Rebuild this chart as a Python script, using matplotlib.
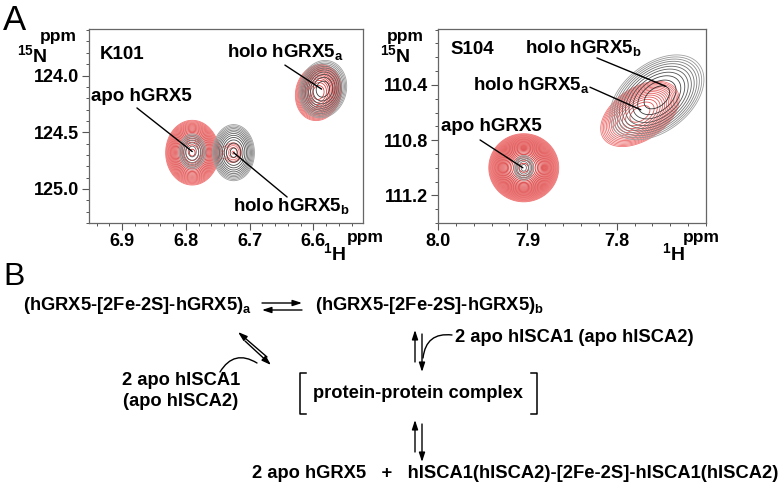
import numpy as np
import matplotlib
matplotlib.use("Agg")
import matplotlib.pyplot as plt
from matplotlib.colors import LinearSegmentedColormap
from matplotlib.ticker import MultipleLocator, FixedLocator, FormatStrFormatter

# ---- K101 peaks (1H ppm, 15N ppm); red = apo spectrum, black = holo spectrum
K101_RED_H = [6.790, 6.725, 6.592]
K101_RED_N = [124.68, 124.68, 124.15]
K101_RED_AMP = [1.0, 0.14, 0.55]
K101_RED_WH = [0.019, 0.013, 0.019]
K101_RED_WN = [0.13, 0.09, 0.13]
K101_RED_RHO = [0.0, 0.0, 0.1]

K101_BLK_H = [6.790, 6.725, 6.585]
K101_BLK_N = [124.67, 124.68, 124.12]
K101_BLK_AMP = [0.35, 1.0, 0.9]
K101_BLK_WH = [0.012, 0.0145, 0.017]
K101_BLK_WN = [0.09, 0.11, 0.115]
K101_BLK_RHO = [0.0, 0.0, 0.1]

# ---- S104 peaks
S104_RED_H = [7.904, 7.774]
S104_RED_N = [111.00, 110.61]
S104_RED_AMP = [1.0, 0.25]
S104_RED_WH = [0.0165, 0.026]
S104_RED_WN = [0.104, 0.14]
S104_RED_RHO = [0.0, 0.45]

S104_BLK_H = [7.904, 7.755]
S104_BLK_N = [111.00, 110.49]
S104_BLK_AMP = [0.3, 1.0]
S104_BLK_WH = [0.007, 0.024]
S104_BLK_WN = [0.058, 0.14]
S104_BLK_RHO = [0.0, 0.42]

# axis ticks
K101_H_TICKS = [6.9, 6.8, 6.7, 6.6]
K101_N_TICKS = [124.0, 124.5, 125.0]
S104_H_TICKS = [8.0, 7.9, 7.8]
S104_N_TICKS = [110.4, 110.8, 111.2]

# label targets (1H, 15N)
K101_LABELS = ["holo hGRX5$_\\mathbf{a}$", "apo hGRX5", "holo hGRX5$_\\mathbf{b}$"]
K101_TARGET_H = [6.587, 6.790, 6.725]
K101_TARGET_N = [124.12, 124.67, 124.68]
S104_LABELS = ["holo hGRX5$_\\mathbf{b}$", "holo hGRX5$_\\mathbf{a}$", "apo hGRX5"]
S104_TARGET_H = [7.745, 7.773, 7.905]
S104_TARGET_N = [110.41, 110.58, 111.00]

plt.rcParams["font.family"] = ["Liberation Sans", "DejaVu Sans"]
plt.rcParams["font.weight"] = "bold"
plt.rcParams["mathtext.fontset"] = "custom"
plt.rcParams["mathtext.rm"] = "Liberation Sans:bold"
plt.rcParams["mathtext.bf"] = "Liberation Sans:bold"

RED_CMAP = LinearSegmentedColormap.from_list("r", ["#f07878", "#d42828"])
BLK_CMAP = LinearSegmentedColormap.from_list("k", ["#a0a0a0", "#303030"])


def spectrum(H, N, hs, ns, amps, whs, wns, rhos):
    z = np.zeros_like(H)
    for h0, n0, a, wh, wn, r in zip(hs, ns, amps, whs, wns, rhos):
        dx = (H - h0) / wh
        dy = (N - n0) / wn
        q = (dx**2 - 2 * r * dx * dy + dy**2) / (1 - r**2)
        z += a * np.exp(-0.5 * q)
    return z


def draw_contours(ax, H, N, z, base, factor, cmap, lw):
    n = int(np.log(1.0 / base) / np.log(factor)) + 1
    levels = base * factor ** np.arange(n)
    cols = [cmap(i / max(n - 1, 1)) for i in range(n)]
    ax.contour(H, N, z, levels=levels, colors=cols, linewidths=lw)


def style_axes(ax, xticks, xmin, yticks, ymin):
    ax.xaxis.set_major_locator(FixedLocator(xticks))
    ax.xaxis.set_minor_locator(MultipleLocator(xmin))
    ax.yaxis.set_major_locator(FixedLocator(yticks))
    ax.yaxis.set_minor_locator(MultipleLocator(ymin))
    ax.xaxis.set_major_formatter(FormatStrFormatter("%.1f"))
    ax.yaxis.set_major_formatter(FormatStrFormatter("%.1f"))
    ax.tick_params(which="major", direction="out", length=5, width=0.8,
                   color="#555555", labelsize=13, pad=2)
    ax.tick_params(which="minor", direction="out", length=2.5, width=0.7,
                   color="#555555")
    for s in ax.spines.values():
        s.set_color("#666666")
        s.set_linewidth(0.9)


def axis_titles(ax, ppm_y, n_x, h_x, xppm_x):
    ax.text(ppm_y, 0.96, "ppm", transform=ax.transAxes, fontsize=12.5,
            ha="left", va="center")
    ax.text(n_x, 0.862, "$^{\\mathbf{15}}\\mathbf{N}$", transform=ax.transAxes,
            fontsize=14, ha="left", va="center")
    ax.text(xppm_x, -0.075, "ppm", transform=ax.transAxes, fontsize=12.5,
            ha="left", va="center")
    ax.text(h_x, -0.158, "$^{\\mathbf{1}}\\mathbf{H}$", transform=ax.transAxes,
            fontsize=14, ha="left", va="center")


def label_peaks(ax, labels, th, tn, text_pos, line_start):
    for lab, h, n, (tx, ty), (lx, ly) in zip(labels, th, tn, text_pos, line_start):
        ax.text(tx, ty, lab, transform=ax.transAxes, fontsize=13.5,
                ha="left", va="center")
        ax.annotate("", xy=(h, n), xycoords="data", xytext=(lx, ly),
                    textcoords="axes fraction",
                    arrowprops=dict(arrowstyle="-", lw=1.0, color="black",
                                    shrinkA=0, shrinkB=0))


def main():
    fig = plt.figure(figsize=(7.8, 4.88), dpi=100)

    # overlay in pixel units for panel letters and scheme
    ov = fig.add_axes([0, 0, 1, 1])
    ov.set_xlim(0, 780)
    ov.set_ylim(488, 0)
    ov.axis("off")

    W, Hh = 780.0, 488.0
    ax1 = fig.add_axes([89 / W, 1 - 223 / Hh, 274 / W, 194 / Hh])
    ax2 = fig.add_axes([438 / W, 1 - 223 / Hh, 268 / W, 194 / Hh])

    # ---- K101
    gh, gn = np.meshgrid(np.linspace(6.50, 6.97, 500), np.linspace(123.5, 125.4, 500))
    zr = spectrum(gh, gn, K101_RED_H, K101_RED_N, K101_RED_AMP, K101_RED_WH,
                  K101_RED_WN, K101_RED_RHO)
    zb = spectrum(gh, gn, K101_BLK_H, K101_BLK_N, K101_BLK_AMP, K101_BLK_WH,
                  K101_BLK_WN, K101_BLK_RHO)
    draw_contours(ax1, gh, gn, zr, 0.09, 1.12, RED_CMAP, 0.6)
    draw_contours(ax1, gh, gn, zb, 0.08, 1.25, BLK_CMAP, 0.6)
    style_axes(ax1, K101_H_TICKS, 0.02, K101_N_TICKS, 0.1)
    ax1.set_xlim(6.952, 6.522)
    ax1.set_ylim(125.30, 123.59)
    ax1.text(0.04, 0.866, "K101", transform=ax1.transAxes, fontsize=13.5,
             ha="left", va="center")
    label_peaks(ax1, K101_LABELS, K101_TARGET_H, K101_TARGET_N,
                [(0.504, 0.876), (0.007, 0.65), (0.526, 0.082)],
                [(0.715, 0.814), (0.175, 0.593), (0.723, 0.134)])
    axis_titles(ax1, -0.179, -0.263, 0.854, 0.942)

    # ---- S104
    gh, gn = np.meshgrid(np.linspace(7.66, 8.02, 500), np.linspace(109.9, 111.5, 500))
    zr = spectrum(gh, gn, S104_RED_H, S104_RED_N, S104_RED_AMP, S104_RED_WH,
                  S104_RED_WN, S104_RED_RHO)
    zb = spectrum(gh, gn, S104_BLK_H, S104_BLK_N, S104_BLK_AMP, S104_BLK_WH,
                  S104_BLK_WN, S104_BLK_RHO)
    draw_contours(ax2, gh, gn, zr, 0.06, 1.1, RED_CMAP, 0.6)
    draw_contours(ax2, gh, gn, zb, 0.09, 1.25, BLK_CMAP, 0.6)
    style_axes(ax2, S104_H_TICKS, 0.02, S104_N_TICKS, 0.1)
    ax2.set_xlim(8.0, 7.70)
    ax2.set_ylim(111.40, 109.995)
    ax2.text(0.045, 0.892, "S104", transform=ax2.transAxes, fontsize=13.5,
             ha="left", va="center")
    label_peaks(ax2, S104_LABELS, S104_TARGET_H, S104_TARGET_N,
                [(0.325, 0.897), (0.131, 0.706), (0.011, 0.495)],
                [(0.593, 0.851), (0.567, 0.70), (0.157, 0.428)])
    axis_titles(ax2, -0.19, -0.216, 0.836, 0.914)

    # ---- panel letters
    ov.text(3, 21, "A", fontsize=25, fontweight="normal", ha="left", va="center")
    ov.text(3, 277, "B", fontsize=23, fontweight="normal", ha="left", va="center")

    # ---- scheme (panel B)
    fs = 13.2
    ov.text(23, 305, "(hGRX5-[2Fe-2S]-hGRX5)$_\\mathbf{a}$", fontsize=fs,
            ha="left", va="center")
    ov.text(315, 305, "(hGRX5-[2Fe-2S]-hGRX5)$_\\mathbf{b}$", fontsize=fs,
            ha="left", va="center")
    ov.text(455, 337, "2 apo hISCA1 (apo hISCA2)", fontsize=fs,
            ha="left", va="center")
    ov.text(181, 391, "2 apo hISCA1\n(apo hISCA2)", fontsize=fs,
            ha="center", va="center", linespacing=1.35)
    ov.text(418, 393, "protein-protein complex", fontsize=fs,
            ha="center", va="center")
    ov.text(778, 474, "2 apo hGRX5   +   hISCA1(hISCA2)-[2Fe-2S]-hISCA1(hISCA2)",
            fontsize=fs, ha="right", va="center")

    # brackets
    for x0, sgn in [(300, 1), (537, -1)]:
        ov.plot([x0 + 6 * sgn, x0, x0, x0 + 6 * sgn], [373, 373, 414, 414],
                color="black", lw=1.1)

    def arrow(x0, y0, x1, y1):
        ov.annotate("", xy=(x1, y1), xytext=(x0, y0),
                    arrowprops=dict(arrowstyle="-|>,head_length=0.55,head_width=0.18",
                                    lw=1.0, color="black", shrinkA=0, shrinkB=0))

    def curve(x0, y0, x1, y1, rad):
        ov.annotate("", xy=(x1, y1), xytext=(x0, y0),
                    arrowprops=dict(arrowstyle="-", lw=1.0, color="black",
                                    shrinkA=0, shrinkB=0,
                                    connectionstyle=f"arc3,rad={rad}"))

    # a <-> b
    arrow(262, 303, 302, 303)
    arrow(302, 310, 262, 310)
    # b <-> complex
    arrow(415, 362, 415, 330)
    arrow(422, 334, 422, 372)
    curve(452, 335, 423, 358, 0.5)
    # a <-> complex (diagonal)
    arrow(267, 357, 238, 332)
    arrow(245, 341, 271, 365)
    curve(220, 372, 257, 363, -0.5)
    # complex <-> products
    arrow(415, 452, 415, 420)
    arrow(422, 424, 422, 462)

    fig.savefig("out.png", dpi=100)
    plt.close(fig)


if __name__ == "__main__":
    main()
